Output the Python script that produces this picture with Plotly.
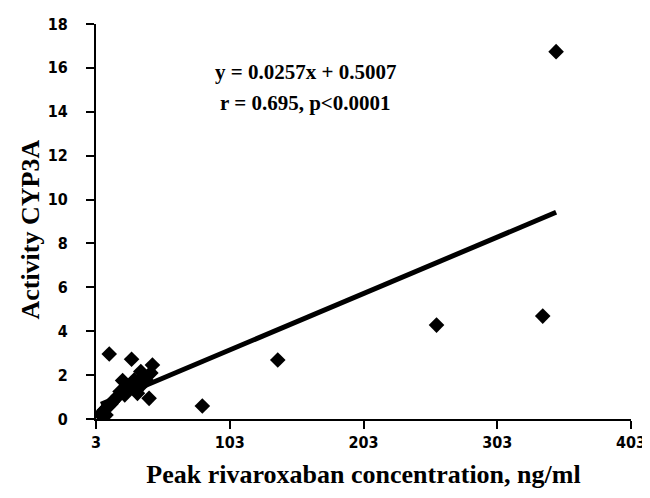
import plotly.graph_objects as go

# Data (x: ng/ml, y: activity CYP3A)
conc = [6.7, 8.0, 9.2, 10.5, 11.7, 12.9, 14.2, 15.4, 17.0, 19.2, 21.0, 22.9, 24.5,
        26.6, 27.8, 29.6, 31.5, 33.0, 34.0, 35.3, 36.5, 38.0, 40.3, 42.7, 45.2, 44.0,
        82.5, 138.9, 257.6, 337.0, 347.0]
activity = [0.18, 0.33, 0.41, 0.18, 0.56, 2.96, 0.68, 0.79, 0.9, 1.02, 1.25, 1.75, 1.1,
            1.40, 1.47, 2.72, 1.78, 1.3, 1.17, 1.78, 2.16, 1.6, 1.78, 0.94, 2.46, 2.1,
            0.59, 2.69, 4.28, 4.69, 16.74]

slope = 0.0257
intercept = 0.5007
x_ticks = [3, 103, 203, 303, 403]
y_ticks = [0, 2, 4, 6, 8, 10, 12, 14, 16, 18]

line_x = [min(conc), max(conc)]
line_y = [slope * v + intercept for v in line_x]

fig = go.Figure()
fig.add_trace(go.Scatter(x=line_x, y=line_y, mode="lines",
                         line=dict(color="black", width=5), showlegend=False,
                         hoverinfo="skip"))
fig.add_trace(go.Scatter(x=conc, y=activity, mode="markers",
                         marker=dict(symbol="diamond", size=12, color="black"),
                         showlegend=False))

tick_font = dict(family="DejaVu Sans Condensed, DejaVu Sans", size=16, color="black",
                 weight="bold")
title_font = dict(family="Liberation Serif, Times New Roman", size=26,
                  color="black", weight="bold")
ann_font = dict(family="Liberation Serif, Times New Roman", size=21,
                color="black", weight="bold")

pad = "\u00a0\u00a0\u00a0"

fig.update_layout(
    width=642, height=490,
    margin=dict(l=88, r=19, t=16, b=79),
    plot_bgcolor="white", paper_bgcolor="white",
    xaxis=dict(range=[3, 403], tickvals=x_ticks, ticktext=[str(v) for v in x_ticks],
               showgrid=False, zeroline=False, showline=True, linecolor="black",
               linewidth=2, ticks="outside", ticklen=8, tickwidth=2, tickcolor="black",
               tickfont=tick_font, automargin=False,
               title=dict(text="Peak rivaroxaban concentration, ng/ml", font=title_font,
                          standoff=14)),
    yaxis=dict(range=[0, 18], tickvals=y_ticks,
               ticktext=[str(v) + pad for v in y_ticks],
               showgrid=False, zeroline=False,
               showline=True, linecolor="black", linewidth=2, ticks="outside",
               ticklen=8, tickwidth=2, tickcolor="black", tickfont=tick_font,
               automargin=False),
    annotations=[
        dict(x=-0.123, y=0.48, xref="paper", yref="paper", showarrow=False,
             textangle=-90, xanchor="center", yanchor="middle",
             text="Activity CYP3A", font=title_font),
        dict(x=0.392, y=0.878, xref="paper", yref="paper", showarrow=False,
             yanchor="middle", text="y = 0.0257x + 0.5007", font=ann_font),
        dict(x=0.392, y=0.80, xref="paper", yref="paper", showarrow=False,
             yanchor="middle", text="r = 0.695, p<0.0001", font=ann_font),
    ],
)

fig.write_html("out.html")
